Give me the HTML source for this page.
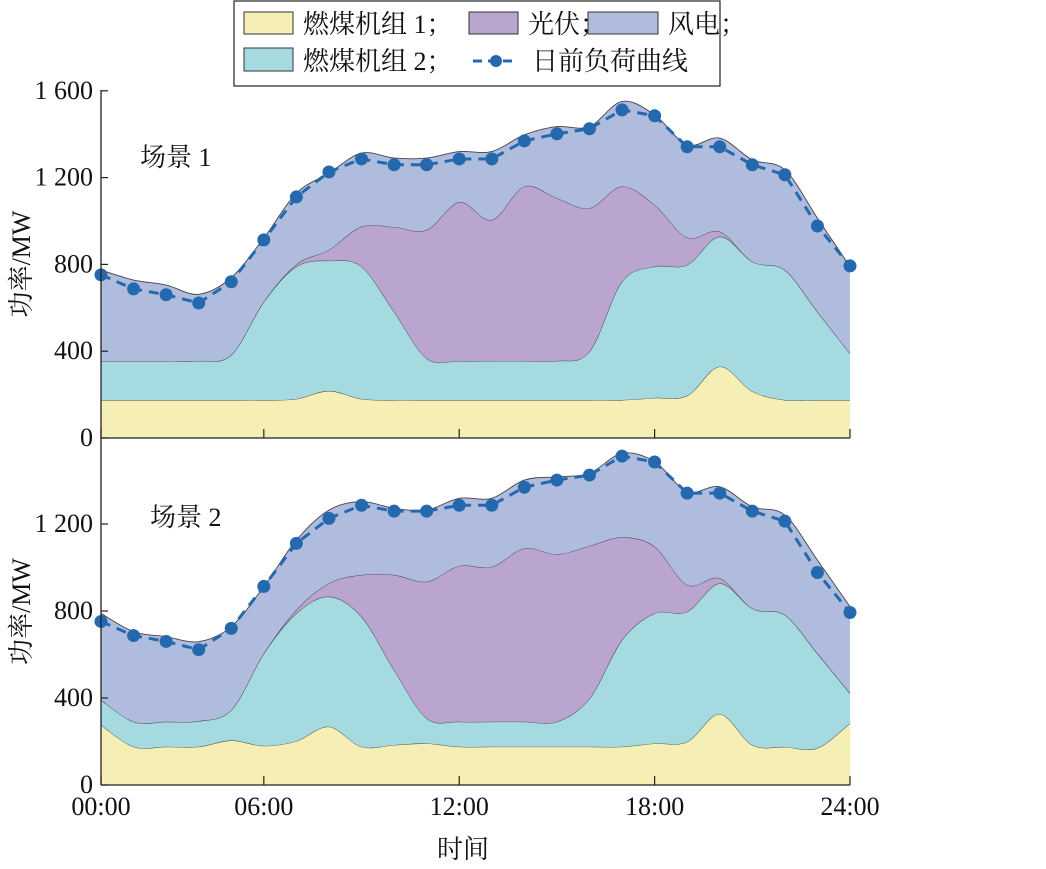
<!DOCTYPE html>
<html><head><meta charset="utf-8"><style>
body{margin:0;background:#fff}
svg text{font-family:"Liberation Serif","Noto Serif CJK SC",serif;fill:#111}
</style></head><body>
<svg id="c" width="1046" height="864" viewBox="0 0 1046 864">
<g id="plots"></g>
<g>
<rect x="234" y="1" width="486" height="85" fill="#fff" stroke="#222" stroke-width="1.2"/>
<rect x="244" y="12" width="49" height="22" fill="#f5efb5" stroke="#333"/>
<text x="303" y="33" font-size="26">燃煤机组 1；</text>
<rect x="469" y="12" width="49" height="22" fill="#b9a5d0" stroke="#333"/>
<text x="528" y="33" font-size="26">光伏；</text>
<rect x="588" y="12" width="70" height="22" fill="#b0bcde" stroke="#333"/>
<text x="668" y="33" font-size="26">风电；</text>
<rect x="244" y="48" width="49" height="23" fill="#a5dbe0" stroke="#333"/>
<text x="303" y="70" font-size="26">燃煤机组 2；</text>
<line x1="473" y1="61" x2="518" y2="61" stroke="#2469ae" stroke-width="3" stroke-dasharray="9,6"/>
<circle cx="496" cy="61" r="6" fill="#2469ae"/>
<text x="532" y="70" font-size="26">日前负荷曲线</text>
</g>
<text x="463" y="858" font-size="26" text-anchor="middle">时间</text>
</svg>
<script>
const hours = [0,1,2,3,4,5,6,7,8,9,10,11,12,13,14,15,16,17,18,19,20,21,22,23];
const xTickIdx = [0,5,11,17,23];
const xTickLabels = ["00:00","06:00","12:00","18:00","24:00"];
const loadCurve = [752,687,660,622,720,913,1111,1226,1286,1259,1259,1286,1286,1369,1402,1425,1512,1485,1342,1342,1259,1213,977,793];
const s1Coal1 = [175,175,175,175,175,175,180,217,180,175,175,175,175,175,175,175,175,185,195,329,215,175,175,175];
const s1Coal2Top = [355,355,355,355,383,628,790,817,790,582,367,355,355,355,355,398,721,790,798,928,813,774,582,390];
const s1PvTop = [355,355,355,355,383,628,800,867,974,972,959,1087,1005,1159,1105,1059,1159,1074,924,951,813,774,582,390];
const s1WindTop = [774,728,705,662,739,921,1128,1220,1313,1290,1290,1320,1320,1397,1435,1435,1551,1489,1351,1382,1282,1236,1013,790];
const s2Coal1 = [276,176,176,176,205,180,202,268,176,184,191,176,176,176,176,176,176,191,199,326,184,175,170,284];
const s2Coal2Top = [391,291,291,294,345,605,789,866,774,529,307,291,291,291,291,397,667,789,797,927,812,782,605,422];
const s2PvTop = [391,291,291,294,345,605,805,927,966,966,935,1007,1003,1088,1061,1099,1139,1096,920,950,812,782,605,422];
const s2WindTop = [789,705,682,659,728,912,1126,1264,1303,1272,1264,1318,1318,1402,1417,1433,1525,1487,1349,1371,1279,1241,1034,820];
const yTicksTop = [0,400,800,1200,1600];
const yTicksBottom = [0,400,800,1200];
const yTickLabels = {0:"0",400:"400",800:"800",1200:"1 200",1600:"1 600"};

const NS="http://www.w3.org/2000/svg";
const root=document.getElementById('plots');
const X0=101,X1=850;
function xs(i){return X0+(X1-X0)*i/(hours.length-1);}
function mk(tag,attrs,parent){const e=document.createElementNS(NS,tag);for(const k in attrs)e.setAttribute(k,attrs[k]);(parent||root).appendChild(e);return e;}
function smooth(pts){let d="";for(let i=0;i<pts.length-1;i++){const p0=pts[Math.max(0,i-1)],p1=pts[i],p2=pts[i+1],p3=pts[Math.min(pts.length-1,i+2)];const c1=[p1[0]+(p2[0]-p0[0])/6,p1[1]+(p2[1]-p0[1])/6],c2=[p2[0]-(p3[0]-p1[0])/6,p2[1]-(p3[1]-p1[1])/6];d+=" C"+c1[0]+","+c1[1]+" "+c2[0]+","+c2[1]+" "+p2[0]+","+p2[1];}return d;}
function rev(pts){return pts.slice().reverse();}

function panel(id,y0px,pxPer400,layers,ticks,label,labelX,labelY,showXLabels,axisTop){
  const g=mk('g',{});
  
  
  const ys=v=>y0px-v*pxPer400/400;
  let lower=hours.map(i=>[xs(i),ys(0)]);
  const colors=["#f5efb5","#a5dbe0","#b9a5d0","#b0bcde"];
  const names=["area-coal1","area-coal2","area-pv","area-wind"];
  layers.forEach((arr,k)=>{
    const up=hours.map(i=>[xs(i),ys(arr[i])]);
    const lr=rev(lower);
    const d="M"+up[0][0]+","+up[0][1]+smooth(up)+" L"+lr[0][0]+","+lr[0][1]+(k===0?" L"+lr[lr.length-1][0]+","+lr[lr.length-1][1]:smooth(lr))+" Z";
    const p=mk('path',{d:d,fill:colors[k],stroke:"none"},g);
    
    
    const ln=mk('path',{d:"M"+up[0][0]+","+up[0][1]+smooth(up),fill:"none",stroke:"#444","stroke-width":0.9},g);
    
    
    lower=up;
  });
  const lp=hours.map(i=>[xs(i),ys(loadCurve[i])]);
  const l=mk('path',{d:"M"+lp.map(p=>p.join(",")).join(" L"),fill:"none",stroke:"#2469ae","stroke-width":3,"stroke-dasharray":"10,7"},g);
  
  
  lp.forEach(p=>{const c=mk('circle',{cx:p[0],cy:p[1],r:6.5,fill:"#2469ae"},g);
    
    });
  const ax=mk('line',{x1:X0,y1:axisTop,x2:X0,y2:y0px,stroke:"#222","stroke-width":1.3},g);
  
  
  const bx=mk('line',{x1:X0,y1:y0px,x2:X1,y2:y0px,stroke:"#222","stroke-width":1.3},g);
  
  
  ticks.forEach(v=>{const y=ys(v);
    const t=mk('line',{x1:X0,y1:y,x2:X0+7,y2:y,stroke:"#222","stroke-width":1.2},g);
    
    
    const tx=mk('text',{x:93,y:y+8,"font-size":26,"text-anchor":"end"},g);tx.textContent=yTickLabels[v];
    
    });
  xTickIdx.forEach((i,k)=>{const x=xs(i);
    const t=mk('line',{x1:x,y1:y0px,x2:x,y2:y0px-9,stroke:"#222","stroke-width":1.2},g);
    
    
    if(showXLabels){const tx=mk('text',{x:x,y:y0px+30,"font-size":26,"text-anchor":"middle"},g);tx.textContent=xTickLabels[k];
      
      }});
  const sl=mk('text',{x:labelX,y:labelY,"font-size":26},g);sl.textContent=label;
  
  
  const yt=mk('text',{x:0,y:0,"font-size":26,"text-anchor":"middle",transform:"translate(30,"+((axisTop+y0px)/2)+") rotate(-90)"},g);yt.textContent="功率/MW";
  
  
}
panel('panel-scenario-1',438,86.8,[s1Coal1,s1Coal2Top,s1PvTop,s1WindTop],yTicksTop,"场景 1",140,166,false,90);
panel('panel-scenario-2',785,87,[s2Coal1,s2Coal2Top,s2PvTop,s2WindTop],yTicksBottom,"场景 2",150,526,true,438);
</script>
</body></html>
